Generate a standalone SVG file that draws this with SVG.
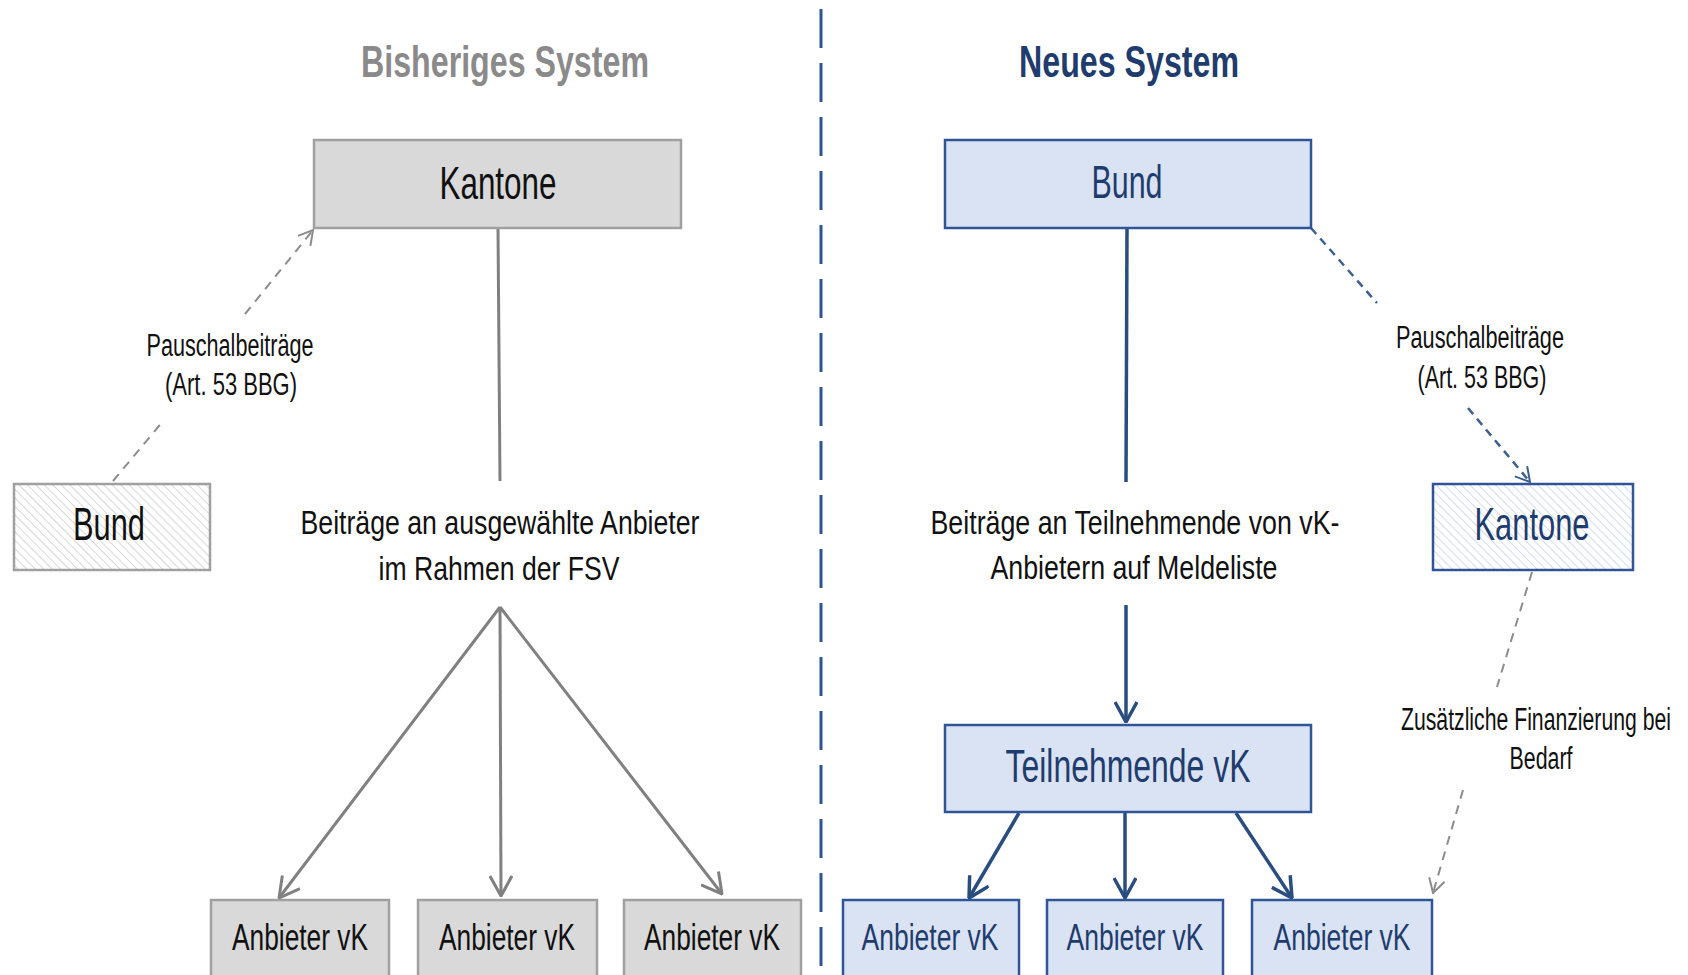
<svg xmlns="http://www.w3.org/2000/svg" width="1688" height="975" viewBox="0 0 1688 975">
<defs>
<pattern id="hatchGray" patternUnits="userSpaceOnUse" width="6" height="6" patternTransform="rotate(-45)">
<rect width="6" height="6" fill="#ffffff"/>
<line x1="0" y1="0" x2="0" y2="6" stroke="#cfcfcf" stroke-width="1.6"/>
</pattern>
<pattern id="hatchBlue" patternUnits="userSpaceOnUse" width="6" height="6" patternTransform="rotate(-45)">
<rect width="6" height="6" fill="#ffffff"/>
<line x1="0" y1="0" x2="0" y2="6" stroke="#c5d3ea" stroke-width="1.6"/>
</pattern>
<marker id="arrGray" viewBox="0 0 22 24" refX="21" refY="12" markerWidth="22" markerHeight="24" markerUnits="userSpaceOnUse" orient="auto">
<path d="M1,1 L21,12 L1,23" fill="none" stroke="#808080" stroke-width="3"/>
</marker>
<marker id="arrBlue" viewBox="0 0 22 24" refX="21" refY="12" markerWidth="22" markerHeight="24" markerUnits="userSpaceOnUse" orient="auto">
<path d="M1,1 L21,12 L1,23" fill="none" stroke="#2a4d80" stroke-width="3.5"/>
</marker>
<marker id="arrDashGray" viewBox="0 0 16 18" refX="15" refY="9" markerWidth="16" markerHeight="18" markerUnits="userSpaceOnUse" orient="auto">
<path d="M1,1 L15,9 L1,17" fill="none" stroke="#8c8c8c" stroke-width="2"/>
</marker>
<marker id="arrDashBlue" viewBox="0 0 16 18" refX="15" refY="9" markerWidth="16" markerHeight="18" markerUnits="userSpaceOnUse" orient="auto">
<path d="M1,1 L15,9 L1,17" fill="none" stroke="#3a5f94" stroke-width="2"/>
</marker>
</defs>
<style>
text { font-family: "Liberation Sans Narrow", "Liberation Sans", Arial, sans-serif; text-anchor: middle; }
.title { font-size: 45px; font-weight: bold; }
.gbox { fill: #d9d9d9; stroke: #a0a0a0; stroke-width: 2.5; }
.bbox { fill: #dae3f3; stroke: #2f5597; stroke-width: 2.5; }
.ghatch { fill: url(#hatchGray); stroke: #a0a0a0; stroke-width: 2.5; }
.bhatch { fill: url(#hatchBlue); stroke: #2f5597; stroke-width: 2.5; }
.big { font-size: 46px; }
.prov { font-size: 37px; }
.lbl { font-size: 31px; fill: #111111; }
.mid { font-size: 34px; fill: #111111; }
.gtxt { fill: #111111; }
.btxt { fill: #1f3c6e; }
.gline { fill: none; stroke: #808080; stroke-width: 3; }
.bline { fill: none; stroke: #2a4d80; stroke-width: 3.5; }
.gdash { fill: none; stroke: #8c8c8c; stroke-width: 2; stroke-dasharray: 9 7; }
.bdash { fill: none; stroke: #3a5f94; stroke-width: 2.5; stroke-dasharray: 8 6; }
</style>
<rect width="1688" height="975" fill="#ffffff"/>

<g id="titles">
<text class="title" x="505" y="77" fill="#8a8a8a" textLength="288" lengthAdjust="spacingAndGlyphs">Bisheriges System</text>
<text class="title" x="1129" y="77" fill="#1f3c6e" textLength="220" lengthAdjust="spacingAndGlyphs">Neues System</text>
</g>

<g id="separator">
<line x1="821" y1="9" x2="821" y2="975" stroke="#2f5597" stroke-width="3" stroke-dasharray="39 15"/>
</g>

<g id="connectors">
<path class="gline" d="M498,228 L500,481"/>
<path class="gline" d="M500,607 L279,898" marker-end="url(#arrGray)"/>
<path class="gline" d="M500,607 L501,896" marker-end="url(#arrGray)"/>
<path class="gline" d="M500,607 L722,894" marker-end="url(#arrGray)"/>
<path class="gdash" d="M113,481 L164,420"/>
<path class="gdash" d="M245,314 L313,230" marker-end="url(#arrDashGray)"/>
<path class="bline" d="M1127,228 L1126,482"/>
<path class="bline" d="M1126,605 L1126,722" marker-end="url(#arrBlue)"/>
<path class="bline" d="M1019,813 L969,898" marker-end="url(#arrBlue)"/>
<path class="bline" d="M1125,813 L1125,898" marker-end="url(#arrBlue)"/>
<path class="bline" d="M1236,813 L1292,898" marker-end="url(#arrBlue)"/>
<path class="bdash" d="M1311,228 L1377,303"/>
<path class="bdash" d="M1468,408 L1530,482" marker-end="url(#arrDashBlue)"/>
<path class="gdash" d="M1532,572 L1497,687"/>
<path class="gdash" d="M1463,790 L1433,893" marker-end="url(#arrDashGray)"/>
</g>

<g id="labels">
<text class="lbl" x="230" y="356" textLength="167" lengthAdjust="spacingAndGlyphs">Pauschalbeiträge</text>
<text class="lbl" x="231" y="395" textLength="132" lengthAdjust="spacingAndGlyphs">(Art. 53 BBG)</text>
<text class="mid" x="500" y="534" textLength="399" lengthAdjust="spacingAndGlyphs">Beiträge an ausgewählte Anbieter</text>
<text class="mid" x="499" y="580" textLength="241" lengthAdjust="spacingAndGlyphs">im Rahmen der FSV</text>
<text class="lbl" x="1480" y="348" textLength="168" lengthAdjust="spacingAndGlyphs">Pauschalbeiträge</text>
<text class="lbl" x="1482" y="388" textLength="129" lengthAdjust="spacingAndGlyphs">(Art. 53 BBG)</text>
<text class="mid" x="1135" y="534" textLength="409" lengthAdjust="spacingAndGlyphs">Beiträge an Teilnehmende von vK-</text>
<text class="mid" x="1134" y="579" textLength="287" lengthAdjust="spacingAndGlyphs">Anbietern auf Meldeliste</text>
<text class="lbl" x="1536" y="730" textLength="270" lengthAdjust="spacingAndGlyphs">Zusätzliche Finanzierung bei</text>
<text class="lbl" x="1541" y="769" textLength="63" lengthAdjust="spacingAndGlyphs">Bedarf</text>
</g>

<g id="kantone-alt">
<rect class="gbox" x="314" y="140" width="367" height="88"/>
<text class="big gtxt" x="498" y="199" textLength="117" lengthAdjust="spacingAndGlyphs">Kantone</text>
</g>
<g id="bund-alt">
<rect class="ghatch" x="14" y="484" width="196" height="86"/>
<text class="big gtxt" x="109" y="540" textLength="72" lengthAdjust="spacingAndGlyphs">Bund</text>
</g>
<g id="anbieter-alt-1">
<rect class="gbox" x="211" y="900" width="178" height="85"/>
<text class="prov gtxt" x="300" y="950" textLength="136" lengthAdjust="spacingAndGlyphs">Anbieter vK</text>
</g>
<g id="anbieter-alt-2">
<rect class="gbox" x="418" y="900" width="179" height="85"/>
<text class="prov gtxt" x="507" y="950" textLength="136" lengthAdjust="spacingAndGlyphs">Anbieter vK</text>
</g>
<g id="anbieter-alt-3">
<rect class="gbox" x="624" y="900" width="177" height="85"/>
<text class="prov gtxt" x="712" y="950" textLength="136" lengthAdjust="spacingAndGlyphs">Anbieter vK</text>
</g>

<g id="bund-neu">
<rect class="bbox" x="945" y="140" width="366" height="88"/>
<text class="big btxt" x="1127" y="198" textLength="71" lengthAdjust="spacingAndGlyphs">Bund</text>
</g>
<g id="kantone-neu">
<rect class="bhatch" x="1433" y="484" width="200" height="86"/>
<text class="big btxt" x="1532" y="540" textLength="115" lengthAdjust="spacingAndGlyphs">Kantone</text>
</g>
<g id="teilnehmende">
<rect class="bbox" x="945" y="725" width="366" height="87"/>
<text class="big btxt" x="1128" y="782" textLength="245" lengthAdjust="spacingAndGlyphs">Teilnehmende vK</text>
</g>
<g id="anbieter-neu-1">
<rect class="bbox" x="843" y="900" width="176" height="85"/>
<text class="prov btxt" x="930" y="950" textLength="137" lengthAdjust="spacingAndGlyphs">Anbieter vK</text>
</g>
<g id="anbieter-neu-2">
<rect class="bbox" x="1047" y="900" width="176" height="85"/>
<text class="prov btxt" x="1135" y="950" textLength="137" lengthAdjust="spacingAndGlyphs">Anbieter vK</text>
</g>
<g id="anbieter-neu-3">
<rect class="bbox" x="1252" y="900" width="180" height="85"/>
<text class="prov btxt" x="1342" y="950" textLength="137" lengthAdjust="spacingAndGlyphs">Anbieter vK</text>
</g>
</svg>
